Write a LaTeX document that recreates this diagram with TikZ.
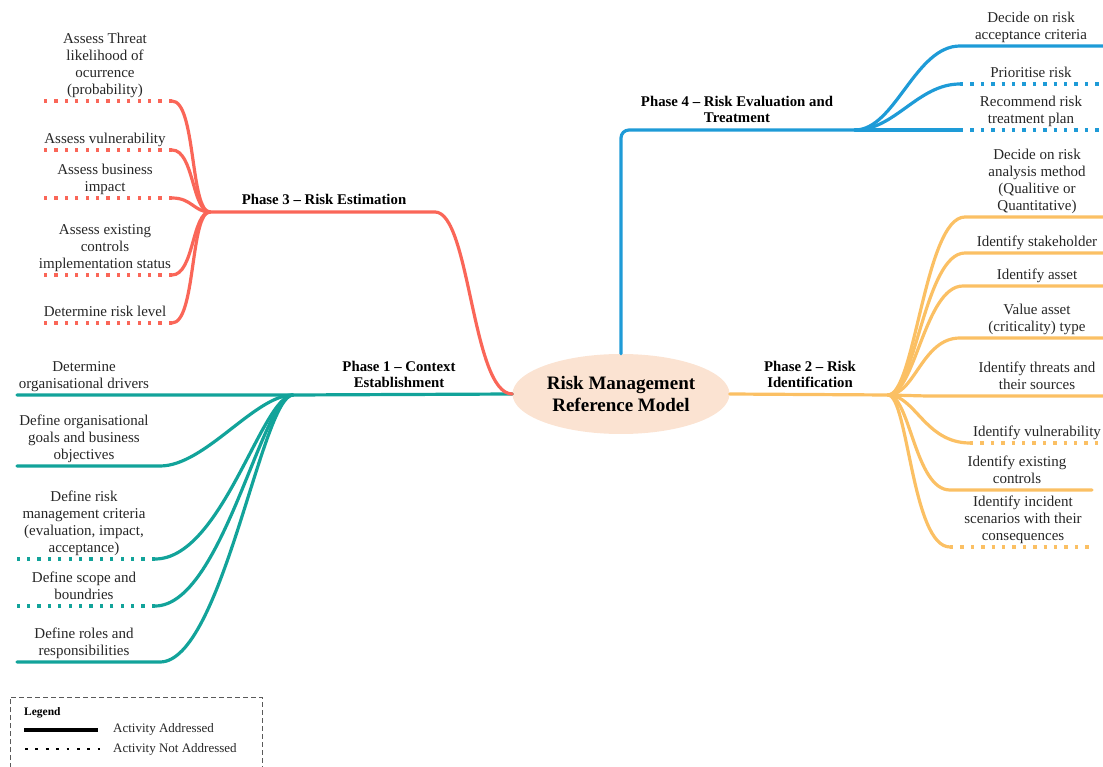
\documentclass[tikz,border=0pt]{standalone}
\usepackage{fontspec}
\setmainfont{Liberation Serif}
\usetikzlibrary{shapes.geometric}
\definecolor{pteal}{RGB}{18,163,154}
\definecolor{pred}{RGB}{250,102,88}
\definecolor{pblue}{RGB}{30,155,215}
\definecolor{porange}{RGB}{251,192,100}
\definecolor{ppeach}{RGB}{251,227,210}
\definecolor{legendgray}{RGB}{90,90,90}
\begin{document}
\begin{tikzpicture}[x=1pt,y=-1pt,
  done/.style={line width=3.2pt, line cap=round},
  notdone/.style={line width=3.3pt, dash pattern=on 3.3pt off 7.1pt},
  leaf/.style={align=center, font=\fontsize{15}{17}\selectfont, inner sep=0pt,
    text depth=4pt, anchor=south, text=black!85},
  phase/.style={align=center, font=\fontsize{14.8}{16.5}\selectfont\bfseries, inner sep=0pt,
    text depth=4pt, anchor=south, text=black},
  legtext/.style={font=\fontsize{13}{14}\selectfont, inner sep=0pt, anchor=west, text=black!85},
]
\useasboundingbox (0,0) rectangle (1103,767);

% ---------- hubs and line ends ----------
\coordinate (p1hub) at (293,395);
\coordinate (p2hub) at (888,395);
\coordinate (p3hub) at (210,212);
\coordinate (p3bend) at (435,212);
\coordinate (p4hub) at (855,130);

% Phase 1 ends
\coordinate (p1a-out) at (17,395);
\coordinate (p1b-in) at (160,466);  \coordinate (p1b-out) at (17,466);
\coordinate (p1c-in) at (155,559);  \coordinate (p1c-out) at (17,559);
\coordinate (p1d-in) at (155,606);  \coordinate (p1d-out) at (17,606);
\coordinate (p1e-in) at (160,662);  \coordinate (p1e-out) at (17,662);
% Phase 3 ends
\coordinate (p3a-in) at (172,101);  \coordinate (p3a-out) at (37,101);
\coordinate (p3b-in) at (172,150);  \coordinate (p3b-out) at (37,150);
\coordinate (p3c-in) at (172,198);  \coordinate (p3c-out) at (37,198);
\coordinate (p3d-in) at (172,275);  \coordinate (p3d-out) at (37,275);
\coordinate (p3e-in) at (172,323);  \coordinate (p3e-out) at (37,323);
% Phase 4 ends
\coordinate (p4a-in) at (960,46);   \coordinate (p4a-out) at (1103,46);
\coordinate (p4b-in) at (960,84);   \coordinate (p4b-out) at (1103,84);
\coordinate (p4c-in) at (960,130);  \coordinate (p4c-out) at (1103,130);
% Phase 2 ends
\coordinate (p2a-in) at (965,217);  \coordinate (p2a-out) at (1103,217);
\coordinate (p2b-in) at (965,253);  \coordinate (p2b-out) at (1103,253);
\coordinate (p2c-in) at (963,286);  \coordinate (p2c-out) at (1103,286);
\coordinate (p2d-in) at (960,338);  \coordinate (p2d-out) at (1103,338);
\coordinate (p2e-in) at (927,396);  \coordinate (p2e-out) at (1103,396);
\coordinate (p2f-in) at (970,443);  \coordinate (p2f-out) at (1103,443);
\coordinate (p2g-in) at (950,490);  \coordinate (p2g-out) at (1092,490);
\coordinate (p2h-in) at (950,547);  \coordinate (p2h-out) at (1092,547);

% ---------- centre ----------
\node[ellipse, fill=ppeach, minimum width=217pt, minimum height=80pt, inner sep=0pt,
  align=center, font=\fontsize{19}{22}\selectfont\bfseries] (core) at (621,394)
  {Risk Management\\Reference Model};

% ---------- Phase 1: Context Establishment ----------
\begin{scope}[pteal]
\draw[done] (core.west) -- (p1hub) -- (p1a-out);
\draw[done] (p1hub) .. controls (255,395) and (205,466) .. (p1b-in) -- (p1b-out);
\draw[done] (p1hub) .. controls (262,395) and (222,559) .. (p1c-in);
\draw[done] (p1hub) .. controls (262,395) and (222,606) .. (p1d-in);
\draw[done] (p1hub) .. controls (262,395) and (222,662) .. (p1e-in) -- (p1e-out);
\draw[notdone] (p1c-in) -- (p1c-out);
\draw[notdone] (p1d-in) -- (p1d-out);
\end{scope}
\node[phase] (p1) at (399,392) {Phase 1 -- Context\\Establishment};
\node[leaf] (p1a) at (84,393) {Determine\\organisational drivers};
\node[leaf] (p1b) at (84,464) {Define organisational\\goals and business\\objectives};
\node[leaf] (p1c) at (84,557) {Define risk\\management criteria\\(evaluation, impact,\\acceptance)};
\node[leaf] (p1d) at (84,604) {Define scope and\\boundries};
\node[leaf] (p1e) at (84,660) {Define roles and\\responsibilities};

% ---------- Phase 3: Risk Estimation ----------
\begin{scope}[pred]
\draw[done] (core.west) .. controls (472,394) and (470,212) .. (p3bend) -- (p3hub);
\draw[done] (p3hub) .. controls (190,212) and (196,101) .. (p3a-in);
\draw[done] (p3hub) .. controls (192,212) and (194,150) .. (p3b-in);
\draw[done] (p3hub) .. controls (194,212) and (192,198) .. (p3c-in);
\draw[done] (p3hub) .. controls (192,212) and (194,275) .. (p3d-in);
\draw[done] (p3hub) .. controls (190,212) and (196,323) .. (p3e-in);
\foreach \c in {a,b,c,d,e}
  \draw[notdone] (p3\c-in) -- (p3\c-out);
\end{scope}
\node[phase] (p3) at (324,209) {Phase 3 -- Risk Estimation};
\node[leaf] (p3a) at (105,99) {Assess Threat\\likelihood of\\ocurrence\\(probability)};
\node[leaf] (p3b) at (105,148) {Assess vulnerability};
\node[leaf] (p3c) at (105,196) {Assess business\\impact};
\node[leaf] (p3d) at (105,273) {Assess existing\\controls\\implementation status};
\node[leaf] (p3e) at (105,321) {Determine risk level};

% ---------- Phase 4: Risk Evaluation and Treatment ----------
\begin{scope}[pblue]
\draw[done, rounded corners=8pt] (core.north) |- (p4hub);
\draw[done] (p4hub) .. controls (895,130) and (915,46) .. (p4a-in) -- (p4a-out);
\draw[done] (p4hub) .. controls (895,130) and (918,84) .. (p4b-in);
\draw[done] (p4hub) -- (p4c-in);
\draw[notdone] (p4b-in) -- (p4b-out);
\draw[notdone] (p4c-in) -- (p4c-out);
\end{scope}
\node[phase] (p4) at (737,127) {Phase 4 -- Risk Evaluation and\\Treatment};
\node[leaf] (p4a) at (1031,44) {Decide on risk\\acceptance criteria};
\node[leaf] (p4b) at (1031,82) {Prioritise risk};
\node[leaf] (p4c) at (1031,128) {Recommend risk\\treatment plan};

% ---------- Phase 2: Risk Identification ----------
\begin{scope}[porange]
\draw[done] (core.east) -- (p2hub);
\draw[done] (p2hub) .. controls (915,395) and (925,217) .. (p2a-in) -- (p2a-out);
\draw[done] (p2hub) .. controls (915,395) and (925,253) .. (p2b-in) -- (p2b-out);
\draw[done] (p2hub) .. controls (915,395) and (925,286) .. (p2c-in) -- (p2c-out);
\draw[done] (p2hub) .. controls (915,395) and (922,338) .. (p2d-in) -- (p2d-out);
\draw[done] (p2hub) -- (p2e-in) -- (p2e-out);
\draw[done] (p2hub) .. controls (915,395) and (925,443) .. (p2f-in);
\draw[done] (p2hub) .. controls (910,395) and (915,490) .. (p2g-in) -- (p2g-out);
\draw[done] (p2hub) .. controls (908,395) and (912,547) .. (p2h-in);
\draw[notdone] (p2f-in) -- (p2f-out);
\draw[notdone] (p2h-in) -- (p2h-out);
\end{scope}
\node[phase] (p2) at (810,392) {Phase 2 -- Risk\\Identification};
\node[leaf] (p2a) at (1037,215) {Decide on risk\\analysis method\\(Qualitive or\\Quantitative)};
\node[leaf] (p2b) at (1037,251) {Identify stakeholder};
\node[leaf] (p2c) at (1037,284) {Identify asset};
\node[leaf] (p2d) at (1037,336) {Value asset\\(criticality) type};
\node[leaf] (p2e) at (1037,394) {Identify threats and\\their sources};
\node[leaf] (p2f) at (1037,441) {Identify vulnerability};
\node[leaf] (p2g) at (1017,488) {Identify existing\\controls};
\node[leaf] (p2h) at (1023,545) {Identify incident\\scenarios with their\\consequences};

% ---------- legend ----------
\coordinate (lg-bl) at (10,768);
\coordinate (lg-tl) at (10,697);
\coordinate (lg-tr) at (262,697);
\coordinate (lg-br) at (262,768);
\draw[legendgray, line width=0.9pt, dash pattern=on 5pt off 3pt]
  (lg-bl) -- (lg-tl) -- (lg-tr) -- (lg-br);
\node[font=\fontsize{11.5}{14}\selectfont\bfseries, inner sep=0pt, anchor=base west] (lgtitle)
  at (24,715) {Legend};
\coordinate (lg-s1) at (24,730);  \coordinate (lg-s2) at (98,730);
\coordinate (lg-d1) at (25,749);  \coordinate (lg-d2) at (100,749);
\draw[black, line width=3.4pt] (lg-s1) -- (lg-s2);
\draw[black, line width=2.8pt, dash pattern=on 2.8pt off 7.6pt] (lg-d1) -- (lg-d2);
\node[legtext] (lgdone) at (113,729) {Activity Addressed};
\node[legtext] (lgnot) at (113,749) {Activity Not Addressed};
\end{tikzpicture}
\end{document}
